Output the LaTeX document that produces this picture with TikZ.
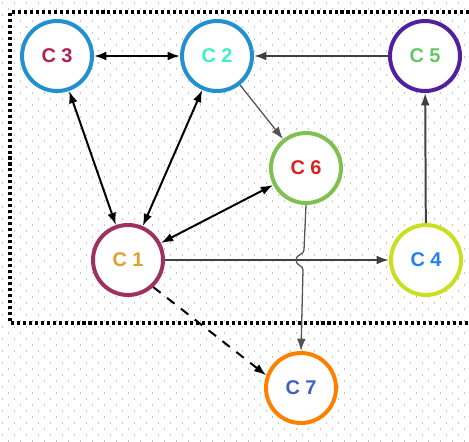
\documentclass[tikz,border=0pt]{standalone}
\usepackage{fontspec}
\setmainfont{Liberation Sans}
\usetikzlibrary{arrows.meta}

\definecolor{ringblue}{HTML}{2090D0}
\definecolor{ringpurple}{HTML}{5020A0}
\definecolor{ringgreen}{HTML}{80C050}
\definecolor{ringmaroon}{HTML}{A03060}
\definecolor{ringlime}{HTML}{C8E020}
\definecolor{ringorange}{HTML}{FF8000}
\definecolor{txtcrimson}{HTML}{B02050}
\definecolor{txtaqua}{HTML}{40F0C8}
\definecolor{txtgreen}{HTML}{60C864}
\definecolor{txtred}{HTML}{E02020}
\definecolor{txtgold}{HTML}{E0A030}
\definecolor{txtblue}{HTML}{2080F0}
\definecolor{txtsteel}{HTML}{4060C0}
\definecolor{dotgrey}{HTML}{C4C4C4}
\definecolor{linkgrey}{HTML}{404040}

\begin{document}
\begin{tikzpicture}[x=0.03cm,y=-0.03cm,>={Latex[length=10.5pt,width=7.5pt]},
  concept/.style={circle,draw,fill=white,line width=3.4pt,minimum size=2.1cm,inner sep=0pt,
    font=\fontsize{17}{20}\selectfont\bfseries},
  link/.style={line width=1.7pt},
  greylink/.style={line width=1.7pt,draw=linkgrey},
  thinlink/.style={line width=1.1pt,draw=linkgrey!90}]
  \useasboundingbox (0,0) rectangle (469,442);
  % dotted background
  \foreach \y in {2,14,...,434} \foreach \x in {2,14,...,458}
    \fill[dotgrey] (\x,\y) rectangle +(1,1.5);
  \foreach \y in {8,20,...,440} \foreach \x in {8,20,...,464}
    \fill[dotgrey] (\x,\y) rectangle +(1,1.5);
  % frame
  \draw[line width=2.6pt,dash pattern=on 2.6pt off 2.5pt] (469,12) -- (10,12) -- (10,323) -- (469,323);
  % concepts
  \node[concept,draw=ringblue,text=txtcrimson] (c3) at (57,56) {C 3};
  \node[concept,draw=ringblue,text=txtaqua] (c2) at (217,56) {C 2};
  \node[concept,draw=ringpurple,text=txtgreen] (c5) at (425,56) {C 5};
  \node[concept,draw=ringgreen,text=txtred] (c6) at (306,168) {C 6};
  \node[concept,draw=ringmaroon,text=txtgold] (c1) at (128,260) {C 1};
  \node[concept,draw=ringlime,text=txtblue] (c4) at (426,260) {C 4};
  \node[concept,draw=ringorange,text=txtsteel] (c7) at (301,388) {C 7};
  % links
  \draw[link,<->] (c3) -- (c2);
  \draw[greylink,->] (c5) -- (c2);
  \draw[link,<->] (c3) -- (c1);
  \draw[link,<->] (c2) -- (c1);
  \draw[link,<->] (c6) -- (c1);
  \draw[thinlink,->] (c2) -- (c6);
  \draw[greylink,->] (c1) -- (c4);
  \draw[greylink,->] (c4) -- (c5);
  \draw[thinlink,->] (c6.south) -- (304,250) .. controls (304,255) and (296,254) .. (296,260)
    .. controls (296,266) and (303,265) .. (303,270) -- (c7.north);
  \draw[link,->,dash pattern=on 8pt off 7pt] (c1.-47) -- (c7.160);
\end{tikzpicture}
\end{document}
